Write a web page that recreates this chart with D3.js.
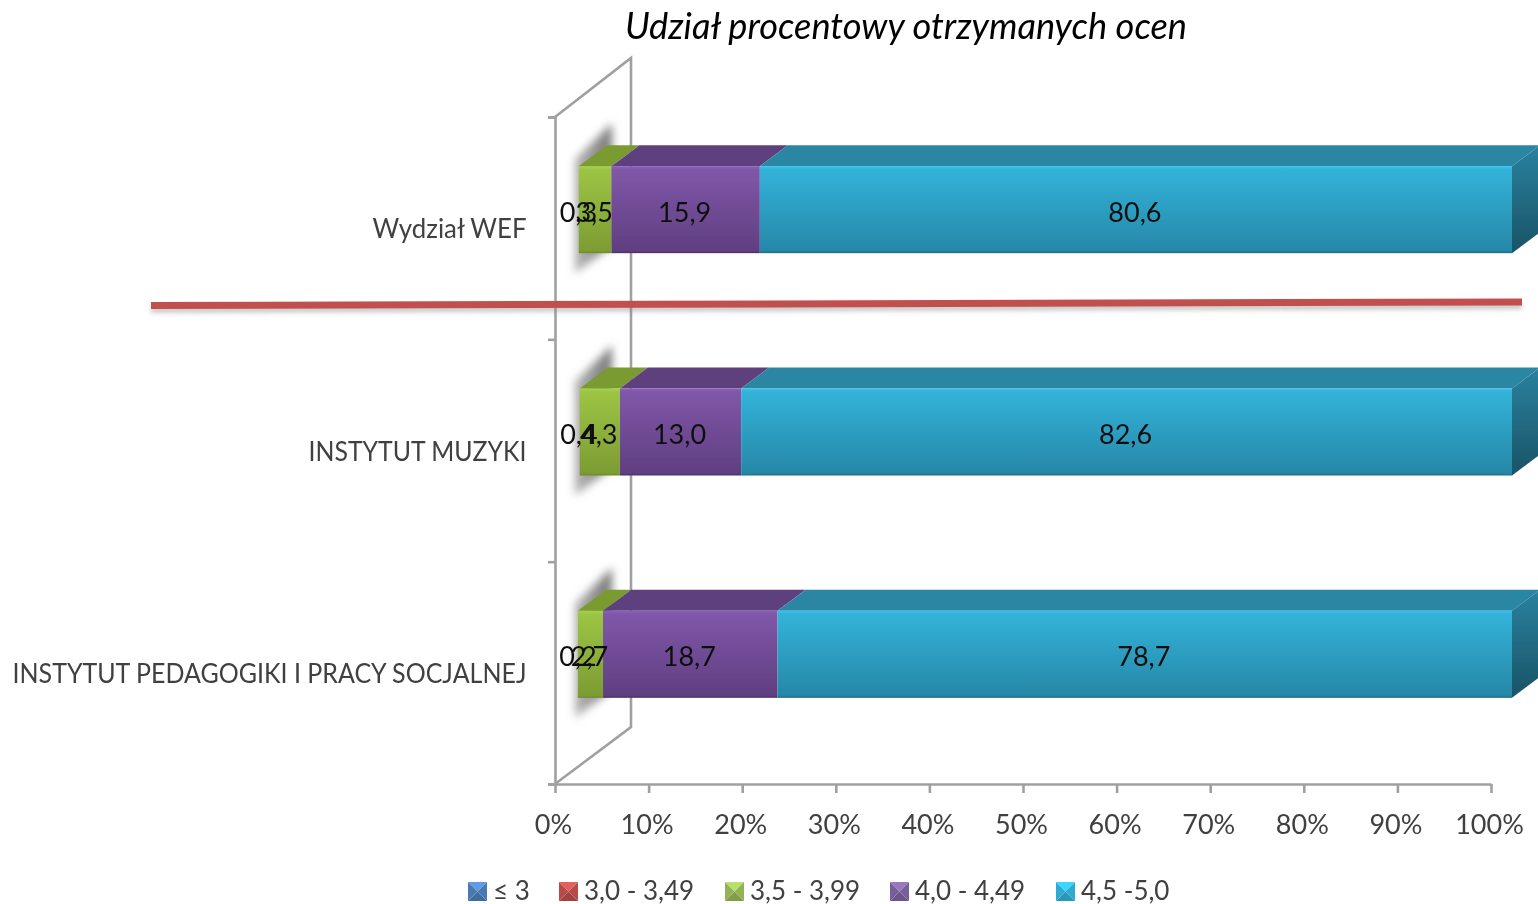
<!DOCTYPE html>
<html><head><meta charset="utf-8">
<script src="https://cdn.jsdelivr.net/npm/d3@7"></script>
<style>
html,body{margin:0;padding:0;background:#fff;overflow:hidden}
svg{display:block}
text{font-family:Lato,"Open Sans",sans-serif}
</style></head><body>
<script>
const titleText = "Udział procentowy otrzymanych ocen";
const categories = ["Wydział WEF","INSTYTUT MUZYKI","INSTYTUT PEDAGOGIKI I PRACY SOCJALNEJ"];
const seriesNames = ["≤ 3","3,0 - 3,49","3,5 - 3,99","4,0 - 4,49","4,5 -5,0"];
const grade3 = [0,0,0];
const grade30 = [0.3,0.4,0.2];
const grade35 = [3.5,4.3,2.7];
const grade40 = [15.9,13.0,18.7];
const grade45 = [80.6,82.6,78.7];
const xTicks = [0,.1,.2,.3,.4,.5,.6,.7,.8,.9,1];
const seriesColors = ["#4f81bd","#c0504d","#9bbb59","#8064a2","#31b4dc"];

const W=1538,H=904;
const svg=d3.select("body").append("svg").attr("width",W).attr("height",H);
const defs=svg.append("defs");
defs.append("filter").attr("id","soft").attr("filterUnits","userSpaceOnUse").attr("x",0).attr("y",0).attr("width",W).attr("height",H)
  .append("feGaussianBlur").attr("stdDeviation",0.65);
defs.append("filter").attr("id","shadow").attr("x","-60%").attr("y","-40%").attr("width","220%").attr("height","180%")
  .append("feGaussianBlur").attr("stdDeviation",4);
defs.append("filter").attr("id","lineShadow").attr("x","-5%").attr("y","-500%").attr("width","110%").attr("height","1100%")
  .append("feGaussianBlur").attr("stdDeviation",2.5);

const front=[["#a6d34a","#9cc444","#7d9c33","#6d8a2b"],["#8a62b4","#7f57a8","#603f81","#4b3166"],["#38c0ea","#32b2d9","#2788a8","#1f6b85"]];
[2,3,4].forEach((s,i)=>{
  const g=defs.append("linearGradient").attr("id","f"+s).attr("x1",0).attr("x2",0).attr("y1",0).attr("y2",1);
  [[0,front[i][0]],[.04,front[i][1]],[.97,front[i][2]],[1,front[i][3]]].forEach(d=>g.append("stop").attr("offset",d[0]).attr("stop-color",d[1]));
});
const sideGrad=defs.append("linearGradient").attr("id","side").attr("x1",0).attr("x2",0).attr("y1",0).attr("y2",1);
sideGrad.append("stop").attr("offset",0).attr("stop-color","#2a829f");
sideGrad.append("stop").attr("offset",1).attr("stop-color","#1a5366");
const topFill={2:"#7a9a31",3:"#5f417f",4:"#2a86a3"};

const root=svg.append("g").attr("filter","url(#soft)");

// scales
const xAxisScale=d3.scaleLinear().domain([0,1]).range([555,1491]);
const xFront=d3.scaleLinear().domain([0,1]).range([576,1512]);
const band=d3.scaleBand().domain(categories).range([117,784]);
const wallTicks=d3.scalePoint().domain([0,1,2,3]).range([117,784]);
const barH=87, depthX=28, depthY=21, barShift=-62;
const barY=c=>band(c)+band.bandwidth()/2+barShift;

// walls
const wallCol="#a0a0a0";
const wall=root.append("g").attr("fill","none").attr("stroke",wallCol).attr("stroke-width",2.6);
wall.append("path").attr("d",d3.line()([[555,117],[631,58],[631,727],[555,784]]));

const yAx=root.append("g").attr("transform","translate(555,0)")
  .call(d3.axisLeft(wallTicks).tickSize(7).tickFormat(""));
yAx.selectAll("path,line").attr("stroke",wallCol).attr("stroke-width",2.6);

const xAx=root.append("g").attr("transform","translate(0,784)")
  .call(d3.axisBottom(xAxisScale).tickValues(xTicks).tickSize(9).tickSizeOuter(0).tickPadding(22).tickFormat(d3.format(".0%")));
xAx.selectAll("path,line").attr("stroke",wallCol).attr("stroke-width",2.6);
xAx.selectAll("text").attr("font-size",27).attr("fill","#404040").attr("font-family","Lato").attr("dx",-2);

// stack
const table=categories.map((c,i)=>({c,s0:grade3[i],s1:grade30[i],s2:grade35[i],s3:grade40[i],s4:grade45[i]}));
const keys=["s0","s1","s2","s3","s4"];
const stacked=d3.stack().keys(keys).offset(d3.stackOffsetExpand)(table);

// soft shadow behind each bar start
const shGrad=defs.append("linearGradient").attr("id","shGrad").attr("x1",1).attr("x2",0).attr("y1",0).attr("y2",0);
shGrad.append("stop").attr("offset",0).attr("stop-color","#777");
shGrad.append("stop").attr("offset",1).attr("stop-color","#b5b5b5");
table.forEach(d=>{
  const y=barY(d.c), x0=xFront(0);
  root.append("polygon")
    .attr("points",[[x0-1,y-7],[x0+36,y-depthY-22],[x0+36,y+barH-8],[x0-1,y+barH+20]].map(p=>p.join(",")).join(" "))
    .attr("fill","url(#shGrad)").attr("filter","url(#shadow)");
});

const bars=root.append("g");
stacked.forEach((layer,si)=>{
  if(si<2) return;
  layer.forEach(seg=>{
    const c=seg.data.c,y=barY(c),x0=xFront(seg[0]),x1=xFront(seg[1]);
    bars.append("polygon").attr("points",[[x0,y],[x0+depthX,y-depthY],[x1+depthX,y-depthY],[x1,y]].map(p=>p.join(",")).join(" ")).attr("fill",topFill[si]);
    if(si===4){
      bars.append("polygon").attr("points",[[x1,y],[x1+depthX,y-depthY],[x1+depthX,y+barH-depthY],[x1,y+barH]].map(p=>p.join(",")).join(" ")).attr("fill","url(#side)");
    }
    bars.append("rect").attr("x",x0).attr("y",y).attr("width",x1-x0).attr("height",barH).attr("fill",`url(#f${si})`);
  });
});

// value labels
const labels=root.append("g").attr("font-size",27).attr("fill","#111").attr("text-anchor","middle");
stacked.forEach((layer,si)=>{
  if(si===0) return;
  layer.forEach(seg=>{
    const v=seg.data[keys[si]];
    labels.append("text").attr("x",(xFront(seg[0])+xFront(seg[1]))/2+(si===1?1:-1)).attr("y",barY(seg.data.c)+barH/2+12)
      .text(d3.format(".1f")(v).replace(".",","));
  });
});

// category labels
const catWidths=[154,218,514];
root.append("g").selectAll("text").data(categories).join("text")
  .attr("x",526.5).attr("y",c=>band(c)+band.bandwidth()/2+10)
  .attr("text-anchor","end").attr("font-size",26).attr("fill","#404040")
  .attr("textLength",(d,i)=>catWidths[i]).attr("lengthAdjust","spacingAndGlyphs").text(d=>d);

// separator line
const sep=[[151,305.5],[1522,302]];
root.append("path").attr("d",d3.line()(sep.map(p=>[p[0],p[1]+4]))).attr("stroke","#888").attr("stroke-width",6).attr("opacity",.5).attr("fill","none").attr("filter","url(#lineShadow)");
root.append("path").attr("d",d3.line()(sep)).attr("stroke","#c0504d").attr("stroke-width",7).attr("fill","none");

// title
root.append("text").attr("x",906).attr("y",39).attr("text-anchor","middle").attr("font-size",36).attr("font-style","italic").attr("fill","#000")
  .attr("textLength",562).attr("lengthAdjust","spacingAndGlyphs").text(titleText);

// legend
const legendX=[468,559,725,890,1056];
const shade=(c,k)=>k>0?d3.color(c).brighter(k).formatHex():d3.color(c).darker(-k).formatHex();
const leg=root.append("g");
seriesNames.forEach((n,i)=>{
  const g=leg.append("g").attr("transform",`translate(${legendX[i]},882)`);
  const s=19,m=9.5,col=seriesColors[i];
  const tri=(pts,f)=>g.append("polygon").attr("points",pts.map(p=>p.join(",")).join(" ")).attr("fill",f);
  tri([[0,0],[s,0],[m,m]],shade(col,.5));
  tri([[0,s],[s,s],[m,m]],shade(col,-.5));
  tri([[0,0],[0,s],[m,m]],shade(col,-.15));
  tri([[s,0],[s,s],[m,m]],shade(col,-.15));
  g.append("text").attr("x",s+6).attr("y",18).attr("font-size",26).attr("fill","#404040").text(n);
});
</script>
</body></html>
